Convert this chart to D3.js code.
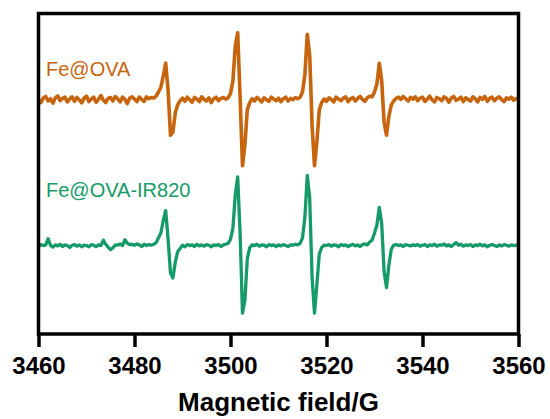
<!DOCTYPE html>
<html>
<head>
<meta charset="utf-8">
<script src="https://cdn.jsdelivr.net/npm/d3@7"></script>
<style>
  body { margin: 0; background: #fff; }
  svg { display: block; }
</style>
</head>
<body>
<div id="chart"></div>
<script>
// field axis: 3460 .. 3560 G, one reading every 0.5 G
const fieldStart = 3460;
const fieldStep = 0.5;
const xTicks = [3460, 3480, 3500, 3520, 3540, 3560];
const seriesNames = ["Fe@OVA", "Fe@OVA-IR820"];
// vertical offsets (a.u.) so the two traces are stacked
const seriesOffsets = [73, 27.5];

// Fe@OVA, intensity relative to its baseline (a.u.)
const feOva = [
  0.2, -0.8, 0.6, 1.1, -0.3, 0.4, -1.0, 0.7, 1.3, -0.2, 0.5, 0.9, -0.6, 0.3, 1.0, -0.4, 0.8, 0.1, -0.9, 0.6,
  1.2, -0.5, 0.3, 0.9, -0.7, 0.2, 1.4, 0.0, -0.8, 0.5, 0.8, -0.3, 1.1, 0.4, -0.6, 0.9, 0.2, -1.1, 0.6, 1.0,
  0.3, -0.5, 0.9, 0.2, -0.4, 1.0, 0.4, 0.8, 0.6, 1.2, 2.5, 4.0, 7.5, 11.5, 3.0, -11.0, -10.0, -4.0, -1.5, -0.2,
  0.6, -0.4, 0.9, 0.1, -0.7, 0.8, 0.3, -0.5, 1.0, 0.2, -0.3, 0.7, -0.8, 0.4, 0.9, -0.2, 0.5, 0.8, 0.3, 0.7,
  2.0, 6.0, 17.0, 21.0, 1.0, -20.5, -14.0, -3.0, -0.8, 0.4, -0.3, 0.8, 0.2, -0.6, 0.7, 0.1, -0.4, 0.9, 0.3, -0.2,
  0.6, -0.5, 0.4, 0.9, -0.3, 0.5, 0.1, 0.8, 0.4, 0.9, 2.5, 8.0, 20.5, 14.0, -8.0, -20.5, -13.0, -3.0, -0.8, 0.3,
  -0.4, 0.7, 0.2, -0.6, 0.9, 0.3, -0.2, 0.6, 1.0, -0.5, 0.4, 0.8, -0.3, 0.5, 1.1, 0.2, -0.4, 0.7, 1.2, 1.0,
  2.5, 5.0, 11.5, 6.0, -7.0, -11.0, -5.0, -1.5, -0.3, 0.5, 0.9, 0.2, 1.1, 0.4, -0.3, 0.8, 0.3, 1.0, -0.2, 0.6,
  0.9, -0.4, 0.3, 1.2, 0.1, -0.6, 0.8, 0.4, -0.2, 1.0, 0.5, -0.7, 0.6, 1.1, -0.1, 0.3, 0.9, -0.5, 0.7, 0.2,
  -0.3, 1.0, 0.4, -0.6, 0.8, 0.2, 1.1, -0.4, 0.5, 0.9, -0.2, 0.6, 1.0, 0.1, -0.5, 0.7, 0.3, 0.9, -0.1, 0.4, 0.6
];

// Fe@OVA-IR820, intensity relative to its baseline (a.u.)
const feOvaIr820 = [
  -0.3, 0.4, 0.1, 0.3, 2.2, 0.2, -0.4, 0.3, 0.0, 0.5, -0.2, 0.3, 0.1, -0.5, 0.2, 0.4, -0.1, 0.3, -0.3, 0.2,
  0.1, -0.3, 0.4, 0.2, -0.2, 0.3, 0.1, 1.8, 0.5, -0.4, -1.2, -0.6, 0.3, 0.2, 0.6, 0.1, 1.9, 0.8, 0.4, 0.5,
  0.2, 0.6, 0.3, -0.2, 0.5, 0.1, 0.4, 0.2, 0.5, 1.0, 2.5, 4.0, 8.0, 11.0, 2.0, -8.5, -10.0, -5.0, -1.8, -0.8,
  0.2, -0.3, 0.4, 0.1, 0.3, -0.2, 0.5, 0.0, 0.3, -0.1, 0.4, 0.2, -0.3, 0.3, 0.1, 0.4, -0.2, 0.3, 0.5, 0.8,
  2.0, 5.5, 16.0, 21.5, 4.0, -21.0, -17.0, -4.0, -0.6, 0.3, 0.1, 0.5, -0.1, 0.3, 0.2, -0.3, 0.4, 0.1, 0.3, -0.2,
  0.3, 0.0, 0.4, 0.1, -0.2, 0.3, 0.2, 0.5, 0.3, 0.8, 2.5, 9.0, 22.0, 15.0, -10.0, -21.0, -12.0, -2.5, -0.5, 0.2,
  0.1, 0.4, -0.1, 0.3, 0.2, -0.3, 0.4, 0.1, 0.3, -0.2, 0.2, 0.5, 0.0, 0.3, -0.2, 0.4, 0.6, 0.3, 1.2, 1.8,
  4.0, 6.5, 12.0, 7.0, -8.0, -13.0, -6.0, -1.0, 0.2, 0.4, 0.1, 0.3, -0.2, 0.4, 0.2, 0.0, 0.3, 0.1, 0.4, -0.1,
  0.2, 0.4, -0.2, 0.3, 0.1, 0.5, -0.1, 0.3, 0.2, 0.6, 0.0, 0.3, -0.2, 0.4, 1.0, 0.2, 0.5, -0.1, 0.3, 0.1,
  0.4, -0.2, 0.3, 0.1, 0.5, 0.0, 0.3, -0.3, 0.2, 0.4, 0.1, -0.2, 0.3, 0.0, 0.4, 0.2, -0.1, 0.3, 0.1, 0.2, 0.0
];

const seriesValues = [feOva, feOvaIr820];
const colors = ["#c7640e", "#159a68"];
const strokeWidths = [3.6, 3.3];

const width = 550;
const height = 419;
const margin = { top: 13.5, right: 31.5, bottom: 85, left: 38.5 };

const svg = d3
  .select("#chart")
  .append("svg")
  .attr("width", width)
  .attr("height", height)
  .attr("viewBox", [0, 0, width, height]);

const x = d3
  .scaleLinear()
  .domain([3460, 3560])
  .range([margin.left, width - margin.right]);

const y = d3
  .scaleLinear()
  .domain([0, 100])
  .range([height - margin.bottom, margin.top]);

// traces
const line = d3
  .line()
  .x((d, i) => x(fieldStart + i * fieldStep))
  .y((d) => y(d));

seriesValues.forEach((vals, k) => {
  svg
    .append("path")
    .datum(vals.map((v) => v + seriesOffsets[k]))
    .attr("fill", "none")
    .attr("stroke", colors[k])
    .attr("stroke-width", strokeWidths[k])
    .attr("stroke-linejoin", "round")
    .attr("d", line);
});

// labels
const labelY = [76, 197];
seriesNames.forEach((name, k) => {
  svg
    .append("text")
    .attr("x", 46)
    .attr("y", labelY[k])
    .attr("fill", colors[k])
    .attr("font-family", "'Liberation Sans', Arial, sans-serif")
    .attr("font-size", 20)
    .text(name);
});

// frame
svg
  .append("rect")
  .attr("x", x(3460))
  .attr("y", y(100))
  .attr("width", x(3560) - x(3460))
  .attr("height", y(0) - y(100))
  .attr("fill", "none")
  .attr("stroke", "#000")
  .attr("stroke-width", 3.5);

// x axis
const xAxis = svg
  .append("g")
  .attr("transform", `translate(0,${y(0)})`)
  .call(
    d3.axisBottom(x).tickValues(xTicks).tickSize(13).tickSizeOuter(0).tickPadding(10).tickFormat(d3.format("d"))
  );
xAxis.select(".domain").remove();
xAxis.selectAll(".tick line").attr("stroke", "#000").attr("stroke-width", 3.5);
xAxis
  .selectAll(".tick text")
  .attr("fill", "#000")
  .attr("font-family", "'Liberation Sans', Arial, sans-serif")
  .attr("font-weight", "bold")
  .attr("font-size", 24);

svg
  .append("text")
  .attr("x", (x(3460) + x(3560)) / 2)
  .attr("y", 411)
  .attr("text-anchor", "middle")
  .attr("font-family", "'Liberation Sans', Arial, sans-serif")
  .attr("font-weight", "bold")
  .attr("font-size", 26)
  .text("Magnetic field/G");
</script>
</body>
</html>
